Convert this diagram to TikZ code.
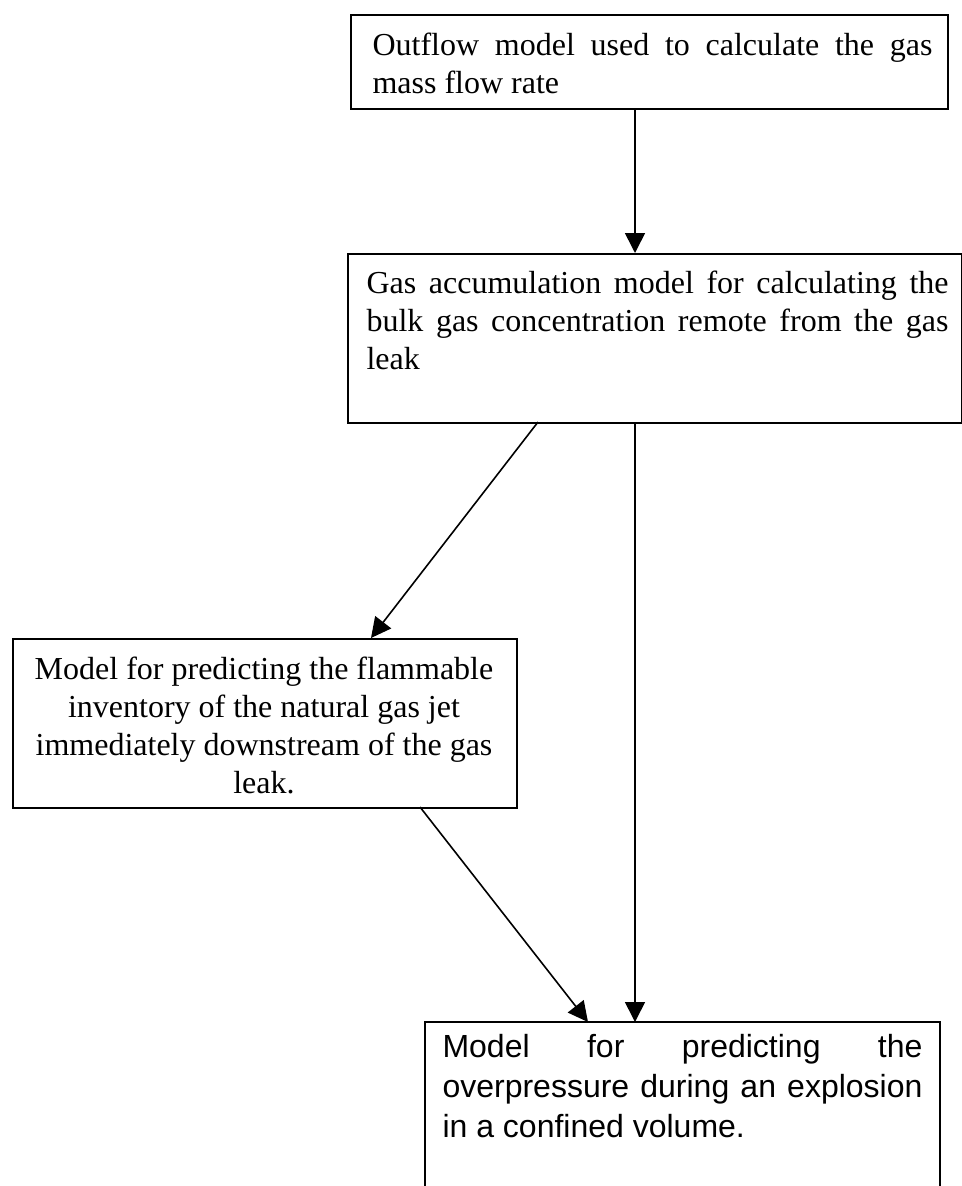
\documentclass[tikz,border=0pt]{standalone}
\usepackage{fontspec}
\setmainfont{Liberation Serif}
\newfontfamily\arialfont{Liberation Sans}
\usetikzlibrary{arrows.meta}
\hyphenpenalty=10000
\exhyphenpenalty=10000
\tolerance=10000
\begin{document}
\begin{tikzpicture}[x=0.375pt,y=-0.375pt,
  boxstyle/.style={draw=black,line width=0.6pt,inner sep=0pt,anchor=north west},
  txt/.style={inner sep=0pt,font=\fontsize{12pt}{14.25pt}\selectfont},
  stxt/.style={inner sep=0pt,font=\arialfont\fontsize{12pt}{15pt}\selectfont},
  arr/.style={line width=0.6pt,-{Triangle[length=7.5pt,width=7.5pt]}}]
\hyphenpenalty=10000\relax
\exhyphenpenalty=10000\relax
\tolerance=10000\relax
\useasboundingbox (0,0) rectangle (962,1186);
% box 1
\node[boxstyle,minimum width=597*0.375pt,minimum height=94*0.375pt] (b1) at (350,14) {};
\node[txt,anchor=north west,text width=210pt,align=justify] (t1) at (372,32)
 {Outflow model used to calculate the gas mass flow rate};
% box 2
\node[boxstyle,minimum width=614*0.375pt,minimum height=169*0.375pt] (b2) at (347,253) {};
\node[txt,anchor=north west,text width=218.25pt,align=justify] (t2) at (366,270)
 {Gas accumulation model for calculating the bulk gas concentration remote from the gas leak};
% box 3
\node[boxstyle,minimum width=504*0.375pt,minimum height=169*0.375pt] (b3) at (12,638) {};
\node[txt,anchor=north,text width=183.75pt,align=flush center] (t3) at (264,656)
 {Model for predicting the flammable inventory of the natural gas jet immediately downstream of the gas leak.};
% box 4 (open at the bottom, cut by the page edge)
\coordinate (b4bl) at (425,1192);
\coordinate (b4tl) at (425,1022);
\coordinate (b4tr) at (940,1022);
\coordinate (b4br) at (940,1192);
\draw[line width=0.6pt] (b4bl) -- (b4tl) -- (b4tr) -- (b4br);
\node[stxt,anchor=north west,text width=180pt,align=justify] (t4) at (442,1034)
 {Model for predicting the overpressure during an explosion in a confined volume.};
% connector end points
\coordinate (p1s) at (635,108);
\coordinate (p2n) at (635,253);
\coordinate (p2d) at (538,422);
\coordinate (p2s) at (635,422);
\coordinate (p3n) at (371,638);
\coordinate (p3s) at (420,807);
\coordinate (p4a) at (588,1022);
\coordinate (p4b) at (635,1022);
% arrows
\draw[arr] (p1s) -- (p2n);
\draw[arr] (p2d) -- (p3n);
\draw[arr] (p2s) -- (p4b);
\draw[arr] (p3s) -- (p4a);
\end{tikzpicture}
\end{document}
